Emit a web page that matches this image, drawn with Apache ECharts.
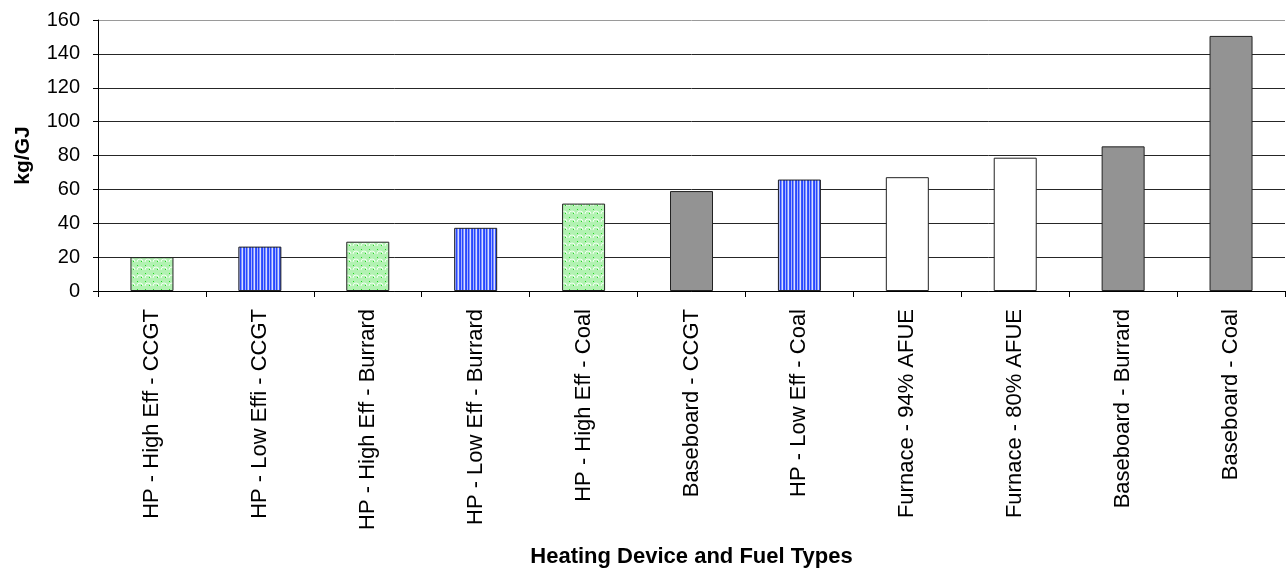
<!DOCTYPE html>
<html>
<head>
<meta charset="utf-8">
<script src="https://cdn.jsdelivr.net/npm/echarts@6/dist/echarts.min.js"></script>
<style>
  html, body { margin: 0; padding: 0; background: #fff; }
  #chart { width: 1286px; height: 569px; }
</style>
</head>
<body>
<div id="chart"></div>
<script>
// 分类
const categories = [
  'HP - High Eff - CCGT', 'HP - Low Effi - CCGT', 'HP - High Eff - Burrard',
  'HP - Low Eff - Burrard', 'HP - High Eff - Coal', 'Baseboard - CCGT',
  'HP - Low Eff - Coal', 'Furnace - 94% AFUE', 'Furnace - 80% AFUE',
  'Baseboard - Burrard', 'Baseboard - Coal'
]
// kg/GJ
const values = [20, 26.2, 29.1, 37.3, 51.6, 59, 65.8, 67.2, 78.7, 85.4, 150.6]
// 设备类型
const groups = ['hpHigh', 'hpLow', 'hpHigh', 'hpLow', 'hpHigh', 'baseboard',
  'hpLow', 'furnace', 'furnace', 'baseboard', 'baseboard']
const yTicks = [0, 20, 40, 60, 80, 100, 120, 140, 160]

// 绿色点纹
function greenPattern() {
  const c = document.createElement('canvas')
  c.width = 8; c.height = 8
  const ctx = c.getContext('2d')
  ctx.fillStyle = '#b2f2b2'
  ctx.fillRect(0, 0, 8, 8)
  ctx.strokeStyle = '#f2fff2'
  ctx.lineWidth = 1
  ctx.beginPath()
  ctx.arc(4, 6, 3, Math.PI, 2 * Math.PI)
  ctx.stroke()
  ctx.fillStyle = '#22d622'
  ctx.fillRect(1, 1, 1, 1)
  ctx.fillRect(5, 5, 1, 1)
  return c
}
// 蓝色竖纹
function bluePattern() {
  const cols = ['#2747ff', '#7f93ff', '#d9deff', '#3a58ff', '#2747ff', '#a8b5ff']
  const c = document.createElement('canvas')
  c.width = cols.length; c.height = 4
  const ctx = c.getContext('2d')
  cols.forEach((col, i) => {
    ctx.fillStyle = col
    ctx.fillRect(i, 0, 1, 4)
  })
  return c
}

const fills = {
  hpHigh: { image: greenPattern(), repeat: 'repeat' },
  hpLow: { image: bluePattern(), repeat: 'repeat' },
  baseboard: '#939393',
  furnace: '#ffffff'
}

const chart = echarts.init(document.getElementById('chart'))
const lineColors = yTicks.map((t, i) => (i === yTicks.length - 1 ? '#9a9a9a' : '#262626'))

chart.setOption({
  animation: false,
  textStyle: { fontFamily: 'Liberation Sans, Arial, sans-serif' },
  grid: { left: 98, right: 1, top: 20, bottom: 276, containLabel: false },
  xAxis: {
    type: 'category',
    data: categories,
    name: 'Heating Device and Fuel Types',
    nameLocation: 'middle',
    nameGap: 255,
    nameTextStyle: { color: '#000', fontSize: 22, fontWeight: 'bold' },
    axisLine: { lineStyle: { color: '#000', width: 1 } },
    axisTick: { show: true, length: 6, lineStyle: { color: '#000' } },
    axisLabel: { rotate: 90, fontSize: 22, color: '#000', margin: 18, interval: 0 }
  },
  yAxis: {
    type: 'value',
    min: 0,
    max: 160,
    interval: 20,
    name: 'kg/GJ',
    nameLocation: 'middle',
    nameGap: 64,
    nameTextStyle: { color: '#000', fontSize: 21, fontWeight: 'bold' },
    axisLine: { show: true, lineStyle: { color: '#000', width: 1 } },
    axisTick: { show: true, length: 5, lineStyle: { color: '#000' } },
    axisLabel: { fontSize: 20, color: '#000', margin: 18 },
    splitLine: { show: true, lineStyle: { color: lineColors, width: 1 } }
  },
  series: [{
    type: 'bar',
    barWidth: 43,
    data: values.map((v, i) => ({
      value: v,
      itemStyle: { color: fills[groups[i]], borderColor: '#222', borderWidth: 1 }
    }))
  }]
})
</script>
</body>
</html>
